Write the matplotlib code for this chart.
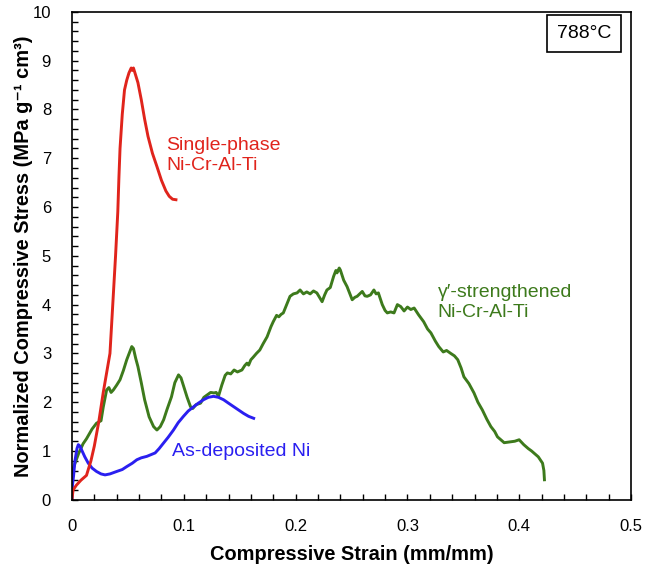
import matplotlib
matplotlib.use("Agg")
import matplotlib.pyplot as plt
from matplotlib.ticker import MultipleLocator

plt.rcParams['font.family'] = ['Liberation Sans', 'DejaVu Sans']

# single-phase Ni-Cr-Al-Ti (red)
red_x = [0, 0.001, 0.004, 0.008, 0.013, 0.017, 0.020, 0.024, 0.028, 0.031, 0.034,
         0.035, 0.037, 0.039, 0.041, 0.042, 0.043, 0.045, 0.047, 0.049, 0.051,
         0.053, 0.054, 0.055, 0.057, 0.059, 0.062, 0.065, 0.068, 0.072, 0.076,
         0.080, 0.084, 0.087, 0.090, 0.093]
red_y = [0, 0.2, 0.3, 0.4, 0.5, 0.8, 1.1, 1.6, 2.2, 2.6, 3.0,
         3.4, 4.2, 5.0, 5.9, 6.6, 7.2, 7.9, 8.4, 8.6, 8.75,
         8.85, 8.8, 8.85, 8.7, 8.55, 8.2, 7.8, 7.45, 7.1, 6.83,
         6.55, 6.33, 6.22, 6.16, 6.15]

# gamma-prime strengthened Ni-Cr-Al-Ti (green)
green_x = [0, 0.002, 0.006, 0.010, 0.013, 0.018, 0.022, 0.026, 0.028, 0.031, 0.033,
           0.035, 0.037, 0.040, 0.043, 0.046, 0.049, 0.052, 0.0535, 0.055, 0.057,
           0.059, 0.062, 0.065, 0.069, 0.073, 0.076, 0.079, 0.082, 0.085, 0.089,
           0.092, 0.0953, 0.0975, 0.0996, 0.103, 0.106, 0.108, 0.111, 0.115, 0.118,
           0.121, 0.124, 0.127, 0.129, 0.131, 0.134, 0.137, 0.139, 0.142, 0.145,
           0.148, 0.152, 0.1545, 0.1565, 0.158, 0.160, 0.162, 0.165, 0.168, 0.171,
           0.1745, 0.178, 0.180, 0.183, 0.185, 0.187, 0.189, 0.192, 0.195, 0.198,
           0.2013, 0.204, 0.207, 0.210, 0.213, 0.216, 0.219, 0.2237, 0.226, 0.228,
           0.231, 0.234, 0.236, 0.237, 0.239, 0.240, 0.243, 0.246, 0.248, 0.2506,
           0.253, 0.255, 0.2596, 0.262, 0.264, 0.267, 0.270, 0.272, 0.274, 0.2775,
           0.280, 0.282, 0.285, 0.288, 0.291, 0.294, 0.297, 0.300, 0.303, 0.306,
           0.310, 0.3145, 0.318, 0.321, 0.325, 0.328, 0.332, 0.335, 0.3387, 0.342,
           0.345, 0.348, 0.3505, 0.355, 0.3595, 0.363, 0.367, 0.371, 0.3746, 0.378,
           0.3805, 0.3865, 0.3925, 0.396, 0.3999, 0.404, 0.408, 0.411, 0.413, 0.417,
           0.4208, 0.422, 0.4225]
green_y = [0.55, 0.7, 0.95, 1.15, 1.25, 1.45, 1.57, 1.62, 1.9, 2.25, 2.3,
           2.2, 2.25, 2.35, 2.46, 2.65, 2.87, 3.05, 3.14, 3.1, 2.9,
           2.73, 2.4, 2.05, 1.7, 1.5, 1.43, 1.5, 1.64, 1.85, 2.11,
           2.4, 2.56, 2.5, 2.35, 2.1, 1.91, 1.87, 1.95, 1.98, 2.1,
           2.15, 2.2, 2.19, 2.2, 2.12, 2.35, 2.55, 2.6, 2.58, 2.66,
           2.62, 2.66, 2.75, 2.8, 2.76, 2.87, 2.92, 3.0, 3.07, 3.2,
           3.34, 3.55, 3.65, 3.78, 3.75, 3.8, 3.83, 4.0, 4.17, 4.22,
           4.24, 4.3, 4.22, 4.26, 4.22, 4.28, 4.24, 4.06, 4.2, 4.3,
           4.35, 4.58, 4.7, 4.65, 4.75, 4.71, 4.5, 4.37, 4.25, 4.1,
           4.15, 4.17, 4.27, 4.18, 4.17, 4.2, 4.3, 4.22, 4.24, 4.0,
           3.88, 3.83, 3.85, 3.83, 4.0, 3.96, 3.87, 3.95, 3.9, 3.93,
           3.79, 3.65, 3.5, 3.42, 3.25, 3.14, 3.03, 3.06, 3.0, 2.95,
           2.87, 2.7, 2.52, 2.38, 2.19, 2.0, 1.84, 1.65, 1.5, 1.4,
           1.29, 1.17, 1.19, 1.2, 1.23, 1.13, 1.05, 1.0, 0.96, 0.88,
           0.75, 0.6, 0.41]

# as-deposited Ni (blue)
blue_x = [0, 0.0005, 0.0015, 0.0027, 0.0045, 0.0057, 0.0072, 0.0087, 0.0115, 0.0146,
          0.018, 0.022, 0.026, 0.0296, 0.034, 0.040, 0.045, 0.049, 0.054, 0.058,
          0.062, 0.067, 0.0744, 0.078, 0.0818, 0.086, 0.0908, 0.095, 0.0997, 0.104,
          0.109, 0.113, 0.1176, 0.122, 0.1266, 0.131, 0.1356, 0.140, 0.1445, 0.149,
          0.1535, 0.158, 0.1625]
blue_y = [0, 0.3, 0.5, 0.8, 1.05, 1.13, 1.1, 1.02, 0.88, 0.75,
          0.65, 0.58, 0.53, 0.51, 0.53, 0.58, 0.62, 0.68, 0.75, 0.82,
          0.86, 0.89, 0.96, 1.05, 1.16, 1.28, 1.43, 1.58, 1.71, 1.82,
          1.91, 1.98, 2.05, 2.1, 2.12, 2.1, 2.05, 1.98, 1.91, 1.84,
          1.77, 1.71, 1.67]

red = '#e0241c'
green = '#3d7a1c'
blue = '#2a1ff0'

fig = plt.figure(figsize=(6.54, 5.66), dpi=100)
ax = fig.add_axes([0.110, 0.117, 0.855, 0.862])

ax.plot(green_x, green_y, color=green, lw=2.1)
ax.plot(blue_x, blue_y, color=blue, lw=2.1)
ax.plot(red_x, red_y, color=red, lw=2.1)

ax.set_xlim(0, 0.5)
ax.set_ylim(0, 10)
ax.xaxis.set_major_locator(MultipleLocator(0.1))
ax.xaxis.set_minor_locator(MultipleLocator(0.02))
ax.yaxis.set_major_locator(MultipleLocator(1))
ax.yaxis.set_minor_locator(MultipleLocator(0.2))
ax.xaxis.set_major_formatter(plt.FuncFormatter(lambda v, p: '%g' % round(v, 2)))
ax.tick_params(which='both', direction='in', length=4, width=1, labelsize=12)
ax.tick_params(axis='x', pad=14)
ax.tick_params(axis='y', pad=15)
for s in ax.spines.values():
    s.set_linewidth(1.2)

ax.set_xlabel('Compressive Strain (mm/mm)', fontsize=14.4, fontweight='bold', labelpad=8)
ax.set_ylabel('Normalized Compressive Stress (MPa g⁻¹ cm³)', fontsize=14.4,
              fontweight='bold', labelpad=0)

ax.text(0.084, 7.05, 'Single-phase\nNi-Cr-Al-Ti', color=red, fontsize=14,
        va='center', linespacing=1.25)
ax.text(0.327, 4.04, 'γ′-strengthened\nNi-Cr-Al-Ti', color=green, fontsize=14,
        va='center', linespacing=1.25)
ax.text(0.0895, 0.98, 'As-deposited Ni', color=blue, fontsize=14, va='center')
ax.text(0.458, 9.56, '788°C', fontsize=14, ha='center', va='center',
        bbox=dict(boxstyle='square,pad=0.5', fc='white', ec='black', lw=1.2))

plt.savefig('out.png', dpi=100)
